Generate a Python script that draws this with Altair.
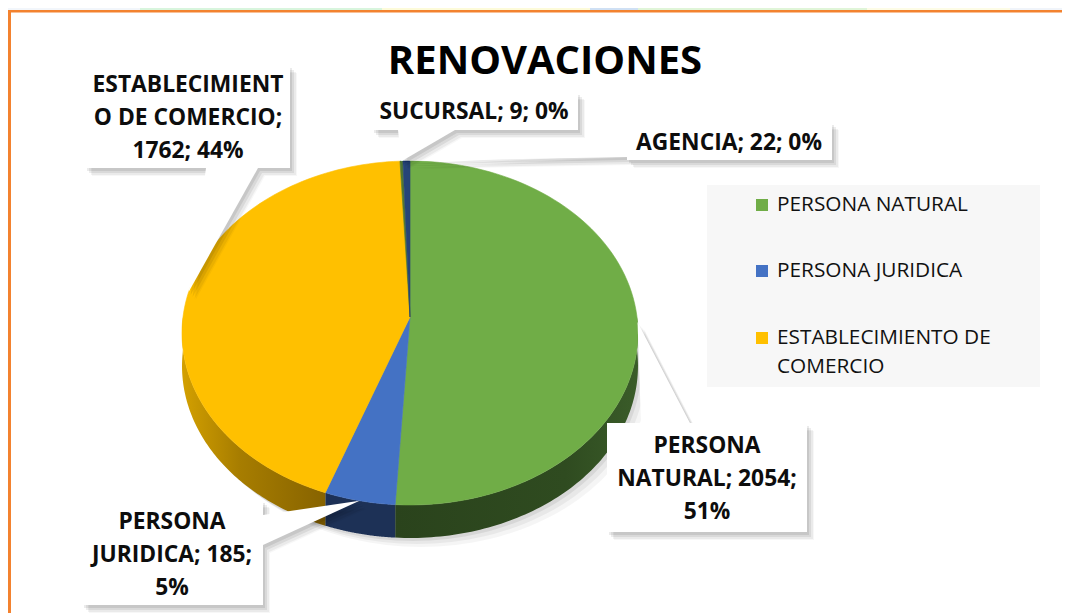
import altair as alt
import pandas as pd

# ---------------- data ----------------
categories = ["PERSONA NATURAL", "PERSONA JURIDICA", "ESTABLECIMIENTO DE COMERCIO",
              "SUCURSAL", "AGENCIA"]
values = [2054, 185, 1762, 9, 22]
label_lines = [["PERSONA", "NATURAL; 2054;", "51%"],
               ["PERSONA", "JURIDICA; 185;", "5%"],
               ["ESTABLECIMIENT", "O DE COMERCIO;", "1762; 44%"],
               ["SUCURSAL; 9; 0%"],
               ["AGENCIA; 22; 0%"]]
legend_lines = [["PERSONA NATURAL"], ["PERSONA JURIDICA"], ["ESTABLECIMIENTO DE", "COMERCIO"]]
title_text = "RENOVACIONES"

# ---------------- style / layout ----------------
top_colors = ["#70AD47", "#4472C4", "#FFC000", "#52772F", "#264478"]
W, H = 1054, 592
X0, Y0 = 8, 8
CX, CY, RX, RY, PERSP, DEPTH, NSEG = 410, 317, 227, 170.5, 0.093, 33, 90
FONT = "Open Sans"

# callout boxes (page px) and wedge base points
box_x0 = [607, 82, 85, 372, 627]
box_x1 = [807, 263, 290, 578, 832]
box_y0 = [423, 500, 65, 92, 122]
box_y1 = [532, 605, 168, 130, 160]
wedge_b1 = [(641, 423), (263, 515), (206, 168), (398, 130), (627, 149)]
wedge_b2 = [(690, 423), (263, 545), (258, 168), (455, 130), (627, 157)]
label_cx = [707, 172, 188, 474, 729]
label_cy0 = [446, 522, 85, 112, 143]
LINE_H = 33

legend_box = (707, 185, 1040, 387)
legend_marker_x = 756
legend_y = [205, 271, 338]
legend_text_x = 777
LEG_LINE_H = 29

data = pd.DataFrame({"cat": categories, "value": values, "ord": list(range(len(categories)))})

xs = alt.Scale(domain=[X0, X0 + W], nice=False, zero=False)
ys = alt.Scale(domain=[Y0, Y0 + H], nice=False, zero=False, reverse=True)


def X(f):
    return alt.X(f, type="quantitative", scale=xs, axis=None)


def Y(f):
    return alt.Y(f, type="quantitative", scale=ys, axis=None)


def ex(th, dx=0):
    return f"({CX + dx} + {RX}*sin({th})/(1 + {PERSP}*cos({th})))"


def ey(th, dy=0):
    return f"({CY + dy} - {RY}*cos({th})/(1 + {PERSP}*cos({th})))"


def pie_base():
    return (alt.Chart(data)
            .transform_joinaggregate(total="sum(value)")
            .transform_window(cum="sum(value)", sort=[alt.SortField("ord", order="ascending")],
                              frame=[None, 0])
            .transform_calculate(t0="2*PI*(datum.cum - datum.value)/datum.total",
                                 t1="2*PI*datum.cum/datum.total")
            .transform_calculate(mid="(datum.t0 + datum.t1)/2"))


# ---- decorations ----
strip = pd.DataFrame({
    "x0": [8, 140, 382, 590, 638, 867, 1010],
    "x1": [140, 382, 590, 638, 867, 1010, 1062],
    "c": ["#F2F6FB", "#D8F5DD", "#FDFBD9", "#CFE0F4", "#E0F5D8", "#FDFCE6", "#F0F4FA"],
})
strip_layer = (alt.Chart(strip).transform_calculate(y0="8", y1="10.5")
               .mark_rect().encode(x=X("x0"), x2="x1", y=Y("y0"), y2="y1",
                                   fill=alt.Fill("c:N", scale=None)))

frame = pd.DataFrame({"x0": [8, 8], "x1": [1062, 11], "y0": [10, 10], "y1": [12.5, 613]})
frame_layer = (alt.Chart(frame).mark_rect(fill="#F3822F")
               .encode(x=X("x0"), x2="x1", y=Y("y0"), y2="y1"))

legbg = pd.DataFrame({"x0": [legend_box[0]], "y0": [legend_box[1]],
                      "x1": [legend_box[2]], "y1": [legend_box[3]]})
legbg_layer = (alt.Chart(legbg).mark_rect(fill="#F7F7F7")
               .encode(x=X("x0"), x2="x1", y=Y("y0"), y2="y1"))

leg_marks = pd.DataFrame({"cat": categories[:3], "yc": legend_y})
leg_mark_layer = (alt.Chart(leg_marks)
                  .transform_calculate(x0=f"{legend_marker_x}", x1=f"{legend_marker_x + 12}",
                                       y0="datum.yc - 6", y1="datum.yc + 6")
                  .mark_rect()
                  .encode(x=X("x0"), x2="x1", y=Y("y0"), y2="y1",
                          fill=alt.Fill("cat:N", scale=alt.Scale(domain=categories, range=top_colors),
                                        legend=None)))
leg_rows = []
for lines, yc in zip(legend_lines, legend_y):
    for k, t in enumerate(lines):
        leg_rows.append({"tx": legend_text_x, "ty": yc + k * LEG_LINE_H, "text": t})
leg_text_layer = (alt.Chart(pd.DataFrame(leg_rows))
                  .mark_text(font=FONT, fontSize=20.8, color="#111111", align="left", baseline="middle")
                  .encode(x=X("tx"), y=Y("ty"), text="text:N"))

title_layer = (alt.Chart(pd.DataFrame({"tx": [545], "ty": [62], "text": [title_text]}))
               .mark_text(font=FONT, fontSize=40, fontWeight="bold", color="#000000",
                          align="center", baseline="middle")
               .encode(x=X("tx"), y=Y("ty"), text="text:N"))


# ---- pie ----
def pie_shadow(dx, dy, op):
    return (alt.Chart(data).transform_aggregate(total="sum(value)")
            .transform_calculate(pts="sequence(0, 180)")
            .transform_flatten(["pts"])
            .transform_calculate(th="2*PI*datum.pts/180")
            .transform_calculate(px=ex("datum.th", dx), py=ey("datum.th", DEPTH + dy))
            .mark_line(interpolate="linear-closed", fill="#000000", fillOpacity=op, strokeOpacity=0)
            .encode(x=X("px"), y=Y("py"), order=alt.Order("pts:Q")))


def side(cat, fill):
    return (pie_base().transform_filter(alt.datum.cat == cat)
            .transform_calculate(a0="max(datum.t0, PI/2)")
            .transform_calculate(a1="max(min(datum.t1, 3*PI/2), datum.a0)")
            .transform_calculate(pts=f"sequence(0, {2 * NSEG + 2})")
            .transform_flatten(["pts"])
            .transform_calculate(
                th=f"datum.pts <= {NSEG} ? datum.a0 + (datum.a1 - datum.a0)*datum.pts/{NSEG}"
                   f" : datum.a1 - (datum.a1 - datum.a0)*(datum.pts - {NSEG + 1})/{NSEG}",
                dy=f"datum.pts <= {NSEG} ? 0 : {DEPTH}")
            .transform_calculate(px=ex("datum.th"), py=f"{ey('datum.th')} + datum.dy")
            .mark_line(interpolate="linear-closed", fill=fill, strokeOpacity=0)
            .encode(x=X("px"), y=Y("py"), order=alt.Order("pts:Q")))


def grad(stops):
    return alt.LinearGradient(gradient="linear", x1=0, y1=0, x2=1, y2=0,
                              stops=[alt.GradientStop(offset=o, color=c) for o, c in stops])


sides = [
    side(categories[0], grad([(0, "#2A431C"), (0.7, "#2F4B20"), (1, "#3A5C29")])),
    side(categories[1], "#1D3156"),
    side(categories[2], grad([(0, "#D3A000"), (0.4, "#A77D00"), (1, "#876300")])),
]

top = (pie_base()
       .transform_calculate(pts=f"sequence(0, {NSEG + 2})")
       .transform_flatten(["pts"])
       .transform_calculate(th=f"datum.t0 + (datum.t1 - datum.t0)*(datum.pts - 1)/{NSEG}")
       .transform_calculate(px=f"datum.pts == 0 ? {CX} : {ex('datum.th')}",
                            py=f"datum.pts == 0 ? {CY} : {ey('datum.th')}")
       .mark_line(interpolate="linear-closed", strokeWidth=0.6, strokeJoin="round")
       .encode(x=X("px"), y=Y("py"), order=alt.Order("pts:Q"), detail="cat:N",
               fill=alt.Fill("cat:N", scale=alt.Scale(domain=categories, range=top_colors), legend=None),
               color=alt.Color("cat:N", scale=alt.Scale(domain=categories, range=top_colors), legend=None)))

# ---- callouts ----
callout = pd.DataFrame({
    "cat": categories,
    "bx1": [b[0] for b in wedge_b1], "by1": [b[1] for b in wedge_b1],
    "bx2": [b[0] for b in wedge_b2], "by2": [b[1] for b in wedge_b2],
})


def wedge(fill, op, dx, dy):
    return (pie_base()
            .transform_lookup(lookup="cat",
                              from_=alt.LookupData(data=callout, key="cat",
                                                   fields=["bx1", "by1", "bx2", "by2"]))
            .transform_calculate(tx=ex("datum.mid"), ty=ey("datum.mid"))
            .transform_calculate(pts="sequence(0, 3)")
            .transform_flatten(["pts"])
            .transform_calculate(
                px=f"(datum.pts == 0 ? datum.bx1 : (datum.pts == 1 ? datum.tx : datum.bx2)) + {dx}",
                py=f"(datum.pts == 0 ? datum.by1 : (datum.pts == 1 ? datum.ty : datum.by2)) + {dy}")
            .mark_line(interpolate="linear-closed", fill=fill, fillOpacity=op, strokeOpacity=0)
            .encode(x=X("px"), y=Y("py"), order=alt.Order("pts:Q"), detail="cat:N"))


boxes = pd.DataFrame({"x0": box_x0, "x1": box_x1, "y0": box_y0, "y1": box_y1})


def box_layer(fill, op, dx, dy):
    return (alt.Chart(boxes)
            .transform_calculate(a0=f"datum.x0 + {dx}", a1=f"datum.x1 + {dx}",
                                 b0=f"datum.y0 + {dy}", b1=f"datum.y1 + {dy}")
            .mark_rect(fill=fill, opacity=op)
            .encode(x=X("a0"), x2="a1", y=Y("b0"), y2="b1"))


lab_rows = []
for lines, lx, ly in zip(label_lines, label_cx, label_cy0):
    for k, t in enumerate(lines):
        lab_rows.append({"tx": lx, "ty": ly + k * LINE_H, "text": t})
label_layer = (alt.Chart(pd.DataFrame(lab_rows))
               .mark_text(font=FONT, fontSize=22.8, fontWeight="bold", color="#0D0D0D",
                          align="center", baseline="middle")
               .encode(x=X("tx"), y=Y("ty"), text="text:N"))

shadow_steps = [(2, 3, 0.08), (4, 5, 0.07), (6, 7, 0.05), (7, 8, 0.03)]

layers = [strip_layer, frame_layer, legbg_layer, leg_mark_layer, leg_text_layer, title_layer,
          pie_shadow(11, 9, 0.04), pie_shadow(7, 6, 0.05), pie_shadow(3, 3, 0.07)]
layers += sides
layers += [top]
layers += [wedge("#000000", op, dx, dy) for dx, dy, op in shadow_steps]
layers += [box_layer("#000000", op, dx, dy) for dx, dy, op in shadow_steps]
layers += [wedge("#FFFFFF", 1, 0, 0), box_layer("#FFFFFF", 1, 0, 0), label_layer]

chart = (alt.layer(*layers)
         .properties(width=W, height=H, padding=0, background="#FFFFFF")
         .configure_view(strokeWidth=0))

chart.save("out.html", embed_options={"renderer": "svg", "actions": False})
